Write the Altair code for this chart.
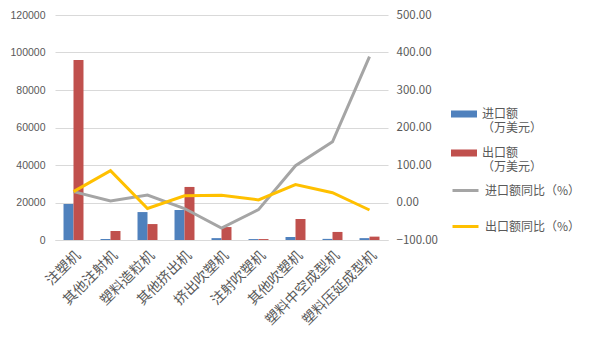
import altair as alt
import pandas as pd

cats = ["注塑机", "其他注射机", "塑料造粒机", "其他挤出机", "挤出吹塑机",
        "注射吹塑机", "其他吹塑机", "塑料中空成型机", "塑料压延成型机"]
imp = [19200, 500, 14900, 16000, 1000, 500, 1600, 600, 1000]
exp = [96000, 4800, 8500, 28300, 6900, 500, 11200, 4300, 1800]
imp_yoy = [29, 4, 20, -16, -68, -19, 98, 162, 389]
exp_yoy = [29, 85, -16, 18, 19, 7, 48, 26, -20]
bar_series = ["进口额|（万美元）", "出口额|（万美元）"]
line_series = ["进口额同比（%）", "出口额同比（%）"]

bar_rows = []
for c, a, b in zip(cats, imp, exp):
    bar_rows.append({"cat": c, "series": bar_series[0], "value": a})
    bar_rows.append({"cat": c, "series": bar_series[1], "value": b})
line_rows = []
for c, a, b in zip(cats, imp_yoy, exp_yoy):
    line_rows.append({"cat": c, "series": line_series[0], "value": a})
    line_rows.append({"cat": c, "series": line_series[1], "value": b})
bars_df = pd.DataFrame(bar_rows)
lines_df = pd.DataFrame(line_rows)

TXT = "#595959"
FONT = "Noto Sans CJK SC"

x_enc = alt.X("cat:N", sort=cats, title=None,
              scale=alt.Scale(paddingInner=0.46, paddingOuter=0.23),
              axis=alt.Axis(labelAngle=-45, labelFontSize=14, labelColor=TXT,
                            labelFont=FONT, ticks=False, domainColor="#d9d9d9",
                            labelPadding=8, labelLimit=200))

bars = alt.Chart(bars_df).mark_bar().encode(
    x=x_enc,
    xOffset=alt.XOffset("series:N", sort=bar_series,
                        scale=alt.Scale(paddingInner=0, paddingOuter=0)),
    y=alt.Y("value:Q", title=None,
            scale=alt.Scale(domain=[0, 120000], nice=False),
            axis=alt.Axis(values=list(range(0, 120001, 20000)), format="d",
                          labelColor=TXT, labelFontSize=10.5, labelFont="Liberation Sans",
                          ticks=False, domain=False, gridColor="#d9d9d9",
                          labelPadding=10)),
    color=alt.Color("series:N", sort=bar_series,
                    scale=alt.Scale(domain=bar_series, range=["#4F81BD", "#C0504D"]),
                    legend=alt.Legend(orient="none", legendX=396, legendY=86,
                                      title=None, labelExpr="split(datum.label, '|')",
                                      symbolType="M-1,-0.27H1V0.27H-1Z",
                                      symbolSize=676, symbolStrokeWidth=0,
                                      labelFontSize=12, labelColor=TXT, labelFont=FONT,
                                      labelOffset=5, rowPadding=6, padding=0,
                                      labelLimit=200)),
)

lines = alt.Chart(lines_df).mark_line(strokeWidth=3).encode(
    x=alt.X("cat:N", sort=cats),
    y=alt.Y("value:Q", title=None,
            scale=alt.Scale(domain=[-100, 500], nice=False),
            axis=alt.Axis(orient="right", values=list(range(-100, 501, 100)),
                          format=".2f", labelColor=TXT, labelFontSize=11.5,
                          labelFont=FONT, ticks=False, domain=False, grid=False,
                          labelPadding=8)),
    color=alt.Color("series:N", sort=line_series,
                    scale=alt.Scale(domain=line_series, range=["#A5A5A5", "#FFC000"]),
                    legend=alt.Legend(orient="none", legendX=396, legendY=161,
                                      title=None, symbolType="stroke",
                                      symbolSize=676, symbolStrokeWidth=3,
                                      labelFontSize=12, labelColor=TXT, labelFont=FONT,
                                      labelOffset=5, rowPadding=15, padding=0,
                                      labelLimit=200)),
)

chart = alt.layer(bars, lines).resolve_scale(
    y="independent", color="independent"
).properties(
    width=333, height=225,
    background="white",
    autosize=alt.AutoSizeParams(type="none"),
    padding={"left": 47, "top": 7, "right": 200, "bottom": 113},
).configure_view(strokeWidth=0, stroke="transparent")

chart.save("out.html", embed_options={"renderer": "svg", "actions": False})
